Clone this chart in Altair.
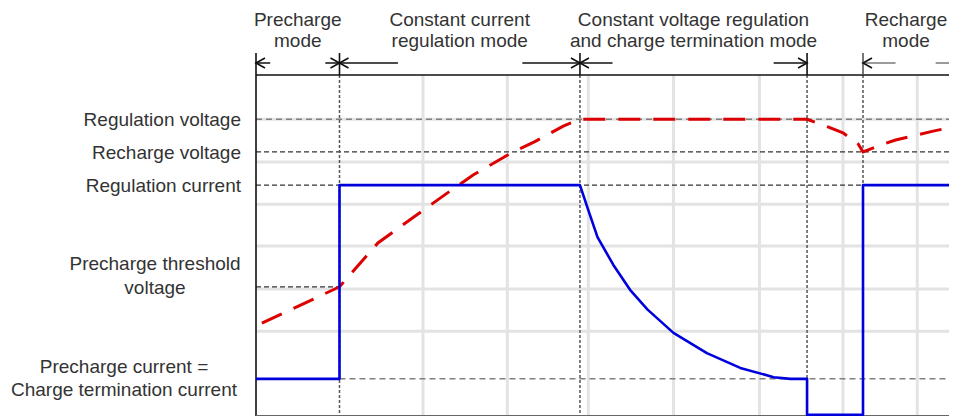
import altair as alt
import pandas as pd

# ---------------- data ----------------
X_MAX = 8.30         # time span shown (arbitrary units)
Y_MAX = 8.08         # vertical span shown (arbitrary units)

mode_names = ["Precharge\nmode",
              "Constant current\nregulation mode",
              "Constant voltage regulation\nand charge termination mode",
              "Recharge\nmode"]
mode_start = [0.0, 1.0, 3.88, 7.27]
mode_end = [1.0, 3.88, 6.60, 8.30]

level_names = ["Regulation voltage",
               "Recharge voltage",
               "Regulation current",
               "Precharge threshold\nvoltage",
               "Precharge current =\nCharge termination current"]
level_values = [7.03, 6.26, 5.47, 3.06, 0.88]

voltage_t = [0.07, 1.0, 1.46, 1.97, 2.26, 2.60, 3.08, 3.34, 3.68, 3.88,
             6.60, 6.85, 7.03, 7.21, 7.27, 7.48, 7.66, 7.92, 8.11, 8.40]
voltage_v = [2.20, 3.06, 4.10, 4.83, 5.24, 5.71, 6.26, 6.50, 6.87, 7.03,
             7.03, 6.85, 6.71, 6.45, 6.26, 6.42, 6.54, 6.66, 6.75, 6.87]

current_t = [0.0, 1.0, 1.0, 3.88, 3.98, 4.09, 4.28, 4.48, 4.69, 5.0,
             5.40, 5.80, 6.20, 6.40, 6.60, 6.60, 7.27, 7.27, 8.40]
current_i = [0.88, 0.88, 5.47, 5.47, 4.88, 4.24, 3.58, 2.99, 2.52, 1.97,
             1.49, 1.14, 0.92, 0.88, 0.88, 0.03, 0.03, 5.47, 5.47]

grid_t = [2.0, 3.01, 3.98, 5.0, 6.03, 7.03, 7.92]
grid_v = [2.01, 3.01, 4.03, 5.02, 6.02, 7.03]

# mode-bar arrows (in time units)
arrow_from_dark = [0.0, 0.83, 3.19, 6.20]
arrow_to_dark = [0.17, 1.70, 4.27, 6.60]
arrow_from_gray = [7.27, 8.14]
arrow_to_gray = [7.66, 8.40]
left_tips = [0.0, 1.0, 3.88, 7.27]
right_tips = [1.0, 3.88, 6.60]

# ---------------- frames ----------------
modes = pd.DataFrame({"name": mode_names, "start": mode_start, "end": mode_end})
levels = pd.DataFrame({"name": level_names, "v": level_values})
volt = pd.DataFrame({"t": voltage_t, "v": voltage_v, "i": range(len(voltage_t))})
curr = pd.DataFrame({"t": current_t, "v": current_i, "i": range(len(current_t))})
bounds = pd.DataFrame({"t": [mode_start[0], mode_start[1], mode_start[2], mode_end[2], mode_start[3]]})

full_lines = ["Regulation voltage", "Recharge voltage", "Regulation current"]
level_lines = pd.DataFrame({
    "name": level_names,
    "v": level_values,
    "a": [0.0, 0.0, 0.0, 0.0, mode_start[1]],
    "b": [X_MAX, X_MAX, X_MAX, mode_end[0], X_MAX],
})

FONT = "Liberation Sans"
TXT = "#333333"

xs = alt.Scale(domain=[0, X_MAX], nice=False, zero=False)
ys = alt.Scale(domain=[0, Y_MAX], nice=False, zero=False)


def X(f):
    return alt.X(f, type="quantitative", scale=xs, axis=None)


def Y(f):
    return alt.Y(f, type="quantitative", scale=ys, axis=None)


grid_x = alt.Chart(pd.DataFrame({"t": grid_t})).mark_rule(
    color="#e3e3e3", strokeWidth=3).encode(x=X("t"))
grid_y = alt.Chart(pd.DataFrame({"v": grid_v})).mark_rule(
    color="#e3e3e3", strokeWidth=3).encode(y=Y("v"))

lvl_gray = alt.Chart(level_lines).transform_filter(
    alt.FieldOneOfPredicate(field="name", oneOf=[level_names[0], level_names[4]])
).mark_rule(color="#808080", strokeDash=[6, 4], strokeWidth=1.5).encode(
    x=X("a"), x2="b", y=Y("v"))
lvl_dark = alt.Chart(level_lines).transform_filter(
    alt.FieldOneOfPredicate(field="name", oneOf=[level_names[1], level_names[2], level_names[3]])
).mark_rule(color="#333333", strokeDash=[5, 3], strokeWidth=1.2).encode(
    x=X("a"), x2="b", y=Y("v"))

bound_lines = alt.Chart(bounds).transform_filter("datum.t > 0").mark_rule(
    color="#555555", strokeDash=[3, 2], strokeWidth=1.5).encode(x=X("t"))

left_border = alt.Chart(pd.DataFrame({"t": [0.0]})).mark_rule(
    color="#111111", strokeWidth=1.6).encode(x=X("t"))
top_border = alt.Chart(pd.DataFrame({"v": [Y_MAX]})).mark_rule(
    color="#111111", strokeWidth=1.6).encode(y=Y("v"))
bottom_border = alt.Chart(pd.DataFrame({"v": [0.0]})).mark_rule(
    color="#666666", strokeWidth=2).encode(y=Y("v"))

voltage = alt.Chart(volt).mark_line(
    color="#dd0000", strokeWidth=3, strokeDash=[22, 13]).encode(
    x=X("t"), y=Y("v"), order="i:Q")
current = alt.Chart(curr).mark_line(
    color="#0000dd", strokeWidth=2.6, strokeJoin="round").encode(
    x=X("t"), y=Y("v"), order="i:Q")

# ----- mode bar above the plot -----
ticks_dark = alt.Chart(bounds).transform_filter("datum.t < 7").mark_rule(
    color="#111111", strokeWidth=1.6).encode(
    x=X("t"), y=alt.value(-22), y2=alt.value(0))
ticks_gray = alt.Chart(bounds).transform_filter("datum.t > 7").mark_rule(
    color="#555555", strokeWidth=1.6).encode(
    x=X("t"), y=alt.value(-22), y2=alt.value(0))
arrows_dark = alt.Chart(pd.DataFrame({"a": arrow_from_dark, "b": arrow_to_dark})).mark_rule(
    color="#111111", strokeWidth=1.5).encode(x=X("a"), x2="b", y=alt.value(-12))
arrows_gray = alt.Chart(pd.DataFrame({"a": arrow_from_gray, "b": arrow_to_gray})).mark_rule(
    color="#7a7a7a", strokeWidth=1.5).encode(x=X("a"), x2="b", y=alt.value(-12))

LEFT_HEAD = "M1.8,-1L0,0L1.8,1"
RIGHT_HEAD = "M-1.8,-1L0,0L-1.8,1"
heads_left = alt.Chart(pd.DataFrame({"t": left_tips})).mark_point(
    shape=LEFT_HEAD, size=100, filled=False, strokeWidth=1.6, color="#111111", opacity=1
).encode(x=X("t"), y=alt.value(-12))
heads_right = alt.Chart(pd.DataFrame({"t": right_tips})).mark_point(
    shape=RIGHT_HEAD, size=100, filled=False, strokeWidth=1.6, color="#111111", opacity=1
).encode(x=X("t"), y=alt.value(-12))

mode_text = alt.Chart(modes).transform_calculate(
    mid="(datum.start + datum.end) / 2"
).mark_text(font=FONT, fontSize=19, color=TXT, align="center", baseline="middle",
            lineBreak="\n", lineHeight=21).encode(
    x=X("mid"), y=alt.value(-55), text="name:N")

# ----- level labels on the left -----
lab_right = alt.Chart(levels).transform_filter(
    alt.FieldOneOfPredicate(field="name", oneOf=full_lines)
).mark_text(font=FONT, fontSize=19, color=TXT, align="right", baseline="middle", dy=1).encode(
    y=Y("v"), x=alt.value(-15), text="name:N")
lab_thr = alt.Chart(levels).transform_filter(
    alt.FieldEqualPredicate(field="name", equal=level_names[3])
).mark_text(font=FONT, fontSize=19, color=TXT, align="center", baseline="middle",
            lineBreak="\n", lineHeight=24, dy=-23).encode(
    y=Y("v"), x=alt.value(-101), text="name:N")
lab_pre = alt.Chart(levels).transform_filter(
    alt.FieldEqualPredicate(field="name", equal=level_names[4])
).mark_text(font=FONT, fontSize=19, color=TXT, align="center", baseline="middle",
            lineBreak="\n", lineHeight=23, dy=-12).encode(
    y=Y("v"), x=alt.value(-132), text="name:N")

chart = alt.layer(
    grid_x, grid_y, lvl_gray, lvl_dark, bound_lines,
    left_border, top_border, bottom_border,
    voltage, current,
    ticks_dark, ticks_gray, arrows_dark, arrows_gray, heads_left, heads_right,
    mode_text, lab_right, lab_thr, lab_pre,
).properties(
    width=693, height=341,
    autosize=alt.AutoSizeParams(type="none"),
    padding={"left": 248, "top": 67, "right": 0, "bottom": 0},
    background="white",
).configure_view(stroke=None)

chart.save("out.html", embed_options={"renderer": "svg", "actions": False})
